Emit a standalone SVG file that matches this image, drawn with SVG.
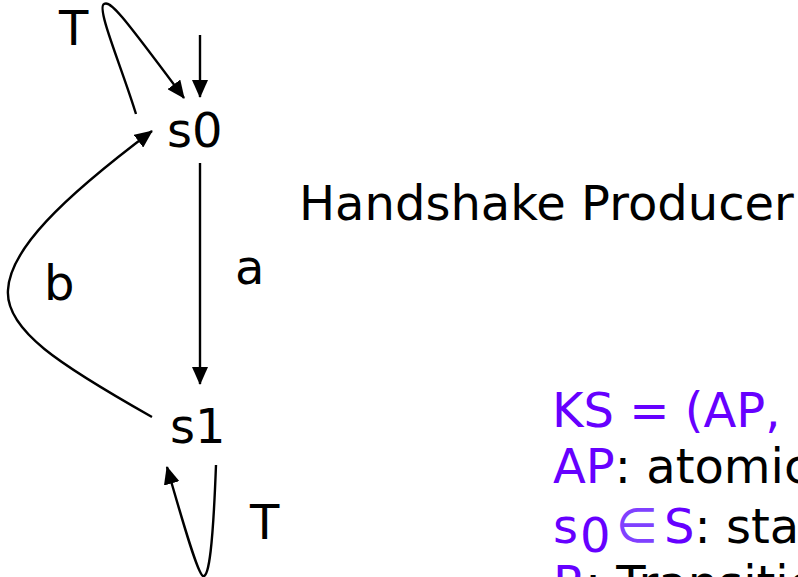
<svg xmlns="http://www.w3.org/2000/svg" width="798" height="577" viewBox="0 0 798 577">
  <style>
    text { font-family: "DejaVu Sans", Verdana, sans-serif; font-size: 48px; fill: #000; }
    .edge { fill: none; stroke: #000; stroke-width: 2.4; marker-end: url(#arrow); }
    .kw { fill: #6600ff; }
  </style>
  <defs>
    <marker id="arrow" markerUnits="userSpaceOnUse" markerWidth="18" markerHeight="16" viewBox="0 0 18 16" refX="17" refY="8" orient="auto">
      <path d="M0,0 L18,8 L0,16 Z" fill="#000"/>
    </marker>
  </defs>

  <!-- transitions -->
  <g id="edges">
    <path id="init" class="edge" d="M200,35 L200,97"/>
    <path id="loop-s0" class="edge" d="M136,114 C122,68 96,8 104,4 C110,0 120,12 184,98"/>
    <path id="s0-s1" class="edge" d="M200,163 L200,384"/>
    <path id="s1-s0" class="edge" d="M152,417 C60,365 5,330 8,290 C10,250 60,200 152,131"/>
    <path id="loop-s1" class="edge" d="M216,465 C213,545 209,578 203,576 C198,574 185,530 167,467"/>
  </g>

  <!-- edge labels -->
  <g id="labels">
    <text x="59" y="45">T</text>
    <text x="235" y="284">a</text>
    <text x="44" y="300">b</text>
    <text x="250" y="539">T</text>
  </g>

  <!-- states -->
  <g id="s0"><text x="167" y="147">s0</text></g>
  <g id="s1"><text x="170" y="443">s1</text></g>

  <g id="title"><text x="299" y="220">Handshake Producer</text></g>

  <!-- Kripke structure definition -->
  <g id="definition">
    <text x="552" y="427" class="kw">KS = (AP, S, s0, R, L)</text>
    <text x="553" y="483"><tspan class="kw">AP</tspan>: atomic propositions</text>
    <text x="553" y="543" class="kw">s</text>
    <text x="580" y="552" class="kw" font-size="30">0</text>
    <text x="616" y="542" class="kw" font-size="35" style="fill:#8040ff">∈</text>
    <text x="664" y="543"><tspan class="kw">S</tspan>: start state</text>
    <text x="553" y="600"><tspan class="kw">R</tspan>: Transition relation</text>
  </g>
</svg>
